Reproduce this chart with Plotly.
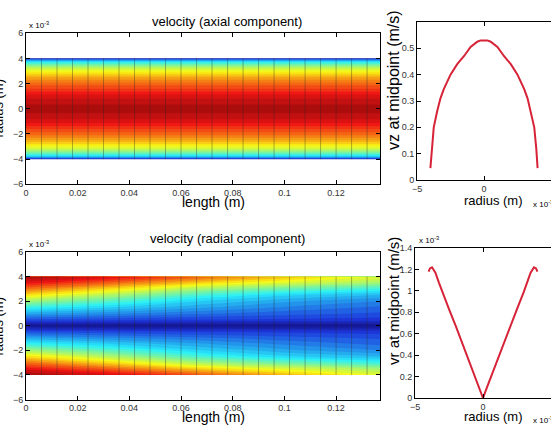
import plotly.graph_objects as go

W, H = 551, 425
FONT = "Liberation Sans"

# radius positions (units of 1e-3 m) and axial velocity at midpoint (m/s)
radius_mm = [-4.0, -3.9, -3.75, -3.5, -3.25, -3.0, -2.5, -2.0, -1.5, -1.0, -0.5, -0.25,
             0.0, 0.25, 0.5, 1.0, 1.5, 2.0, 2.5, 3.0, 3.25, 3.5, 3.75, 3.9, 4.0]
vz_mid = [0.045, 0.12, 0.20, 0.26, 0.31, 0.345, 0.40, 0.44, 0.47, 0.505, 0.525, 0.53,
          0.53, 0.53, 0.525, 0.505, 0.47, 0.44, 0.40, 0.345, 0.31, 0.26, 0.20, 0.12, 0.045]
# radial velocity at midpoint (units of 1e-3 m/s)
vr_mid = [1.18, 1.21, 1.22, 1.17, 1.08, 0.99, 0.83, 0.67, 0.50, 0.33, 0.17, 0.085,
          0.0, 0.085, 0.17, 0.33, 0.50, 0.67, 0.83, 0.99, 1.08, 1.17, 1.22, 1.21, 1.18]

# pipe length stations (m) and mesh element boundaries
axial_stations = [0.0, 0.137]
length_stations = [0.0, 0.034, 0.068, 0.102, 0.137]
element_edges = [0.006, 0.012, 0.018, 0.024, 0.030, 0.036, 0.042, 0.048, 0.054, 0.060, 0.066,
                 0.072, 0.078, 0.084, 0.090, 0.096, 0.102, 0.108, 0.114, 0.120, 0.126, 0.132]

# radial velocity field (1e-3 m/s) on half radius 0..4 (mm), one list per length station
half_radius = [0.0, 0.5, 1.0, 1.5, 2.0, 2.5, 3.0, 3.5, 4.0]
vr_field_half = [
    [0.0, 0.24, 0.42, 0.60, 0.78, 0.98, 1.16, 1.33, 1.45],
    [0.0, 0.22, 0.36, 0.50, 0.64, 0.80, 0.98, 1.18, 1.35],
    [0.0, 0.20, 0.31, 0.41, 0.50, 0.62, 0.79, 1.00, 1.20],
    [0.0, 0.19, 0.27, 0.34, 0.41, 0.51, 0.68, 0.88, 1.04],
    [0.0, 0.18, 0.24, 0.29, 0.35, 0.45, 0.60, 0.78, 0.90],
]

field_radius = [-r for r in half_radius[::-1]] + half_radius[1:]
vr_field = [[station[half_radius.index(abs(r))] for station in vr_field_half] for r in field_radius]
vz_field = [[v for _ in axial_stations] for v in vz_mid]

jet = [[0, "rgb(20,20,140)"], [0.125, "rgb(30,55,220)"], [0.375, "rgb(40,240,250)"],
       [0.625, "rgb(250,250,20)"], [0.875, "rgb(240,20,20)"], [1, "rgb(135,10,10)"]]


def px(x):
    return x / W


def py(y):
    return 1 - y / H


def note(text, x, y, size, angle=0, xanchor="center", yanchor="middle"):
    return dict(text=text, x=px(x), y=py(y), xref="paper", yref="paper", showarrow=False,
                textangle=angle, xanchor=xanchor, yanchor=yanchor,
                font=dict(family=FONT, size=size, color="black"))


def mesh_lines(xa, ya):
    xs, ys = [], []
    for e in element_edges:
        xs += [e, e, None]
        ys += [-4, 4, None]
    return go.Scatter(x=xs, y=ys, mode="lines", xaxis=xa, yaxis=ya, hoverinfo="skip",
                      line=dict(color="rgba(40,40,40,0.35)", width=1), showlegend=False)


fig = go.Figure()

# axial component contour
fig.add_trace(go.Contour(x=axial_stations, y=radius_mm, z=vz_field, colorscale=jet,
                         zmin=0, zmax=0.56, showscale=False,
                         contours=dict(start=0.0, end=0.56, size=0.016, coloring="fill"),
                         line=dict(width=0), xaxis="x", yaxis="y"))
fig.add_trace(mesh_lines("x", "y"))

# radial component contour
fig.add_trace(go.Contour(x=length_stations, y=field_radius, z=vr_field, colorscale=jet,
                         zmin=0, zmax=1.5, showscale=False,
                         contours=dict(start=0, end=1.5, size=0.05, coloring="fill"),
                         line=dict(width=0), xaxis="x3", yaxis="y3"))
fig.add_trace(mesh_lines("x3", "y3"))

# midpoint profiles
red = "rgb(215,35,55)"
fig.add_trace(go.Scatter(x=radius_mm, y=vz_mid, mode="lines", line=dict(color=red, width=2),
                         xaxis="x2", yaxis="y2", showlegend=False))
fig.add_trace(go.Scatter(x=radius_mm, y=vr_mid, mode="lines", line=dict(color=red, width=2),
                         xaxis="x4", yaxis="y4", showlegend=False))

axis_style = dict(showline=True, linecolor="black", linewidth=1, mirror="ticks", ticks="inside",
                  ticklen=4, tickcolor="black", showgrid=False, zeroline=False, automargin=False,
                  tickfont=dict(family=FONT, size=9, color="#333"))

fig.update_layout(
    template="none",
    width=W, height=H, margin=dict(l=0, r=0, t=0, b=0, autoexpand=False),
    paper_bgcolor="white", plot_bgcolor="white", showlegend=False,
    xaxis=dict(axis_style, domain=[px(26), px(380)], range=[0, 0.137], dtick=0.02, anchor="y"),
    yaxis=dict(axis_style, domain=[py(184.3), py(33.3)], range=[-6, 6], dtick=2, anchor="x"),
    xaxis3=dict(axis_style, domain=[px(26), px(380)], range=[0, 0.137], dtick=0.02, anchor="y3"),
    yaxis3=dict(axis_style, domain=[py(399.5), py(252)], range=[-6, 6], dtick=2, anchor="x3"),
    xaxis2=dict(axis_style, domain=[px(417), 1.0], range=[-5, 5], tickvals=[-5, 0, 5], anchor="y2"),
    yaxis2=dict(axis_style, domain=[py(180), py(22)], range=[0, 0.6], mirror=False,
                tickvals=[0, 0.1, 0.2, 0.3, 0.4, 0.5], anchor="x2"),
    xaxis4=dict(axis_style, domain=[px(415), 1.0], range=[-5, 5], tickvals=[-5, 0, 5], anchor="y4"),
    yaxis4=dict(axis_style, domain=[py(398), py(248)], range=[0, 1.4], dtick=0.2, mirror=False,
                anchor="x4"),
    annotations=[
        note("velocity (axial component)", 227, 22, 13),
        note("length (m)", 213, 202, 14),
        note("velocity (radial component)", 227, 238, 13),
        note("length (m)", 213, 417, 14),
        note("radius (m)", 7, 108, 13, angle=-90, xanchor="right"),
        note("radius (m)", 7, 326, 13, angle=-90, xanchor="right"),
        note("x 10<sup>-3</sup>", 27, 25, 8, xanchor="left"),
        note("x 10<sup>-3</sup>", 27, 244, 8, xanchor="left"),
        note("vz at midpoint (m/s)", 393, 80, 16, angle=-90),
        note("vr at midpoint (m/s)", 393, 301, 15, angle=-90),
        note("radius (m)", 493, 200, 13),
        note("radius (m)", 493, 416, 13),
        note("x 10<sup>-3</sup>", 531, 204, 8, xanchor="left"),
        note("x 10<sup>-3</sup>", 531, 420, 8, xanchor="left"),
        note("x 10<sup>-3</sup>", 417, 240, 8, xanchor="left"),
    ],
)

# page body margin removed so the figure sits at the window's top-left corner
fig.write_html("out.html", config={"displayModeBar": False},
               post_script="document.body.style.margin='0';")
